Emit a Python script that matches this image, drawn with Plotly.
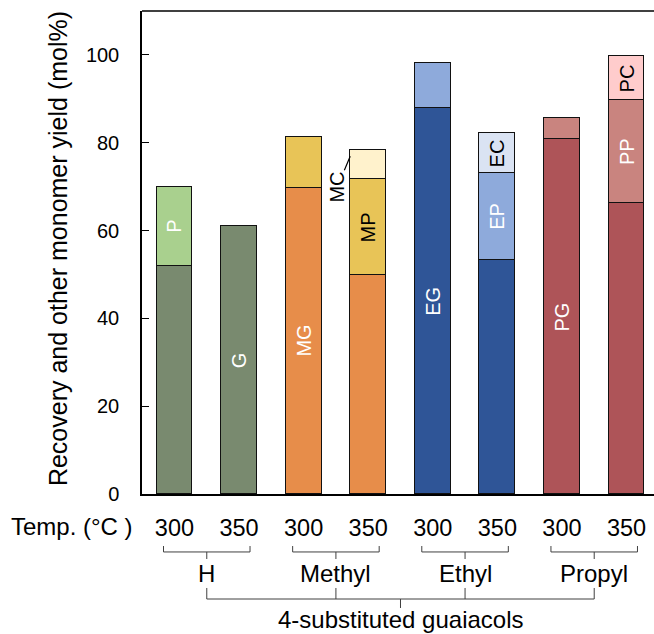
import plotly.graph_objects as go

# Reaction temperature for each run and the 4-substituent of the guaiacol feed
temps = ["300", "350", "300", "350", "300", "350", "300", "350"]
groups = ["H", "Methyl", "Ethyl", "Propyl"]
family = "4-substituted guaiacols"

# Yields (mol%) stacked from the bottom: recovered guaiacol, phenol, catechol
guaiacol = [52.0, 61.0, 69.7, 49.8, 87.9, 53.4, 80.8, 66.2]
phenol = [17.9, None, 11.6, 21.9, 10.3, 19.6, 4.9, 23.6]
catechol = [None, None, None, 6.7, None, 9.3, None, 9.9]

# Segment names written inside the bars
guaiacol_names = ["", "G", "MG", "", "EG", "", "PG", ""]
phenol_names = ["P", "", "", "MP", "", "EP", "", "PP"]
catechol_names = ["", "", "", "", "", "EC", "", "PC"]

pal = {
    "H": ("#798a6f", "#a9d08e", "#a9d08e"),
    "Methyl": ("#e78d4a", "#e8c457", "#fff2cc"),
    "Ethyl": ("#2f5597", "#8eaadb", "#dae3f3"),
    "Propyl": ("#ae5458", "#c9847f", "#ffcccc"),
}
bar_group = [groups[i // 2] for i in range(len(temps))]
dark_text = {"MP", "EC", "PC", "MC"}

FONT = "Liberation Sans, Arial, sans-serif"
x = list(range(len(temps)))
x_range = [-0.503, 7.426]
y_range = [0, 110]
bar_w = 0.557


def xp(v):
    return (v - x_range[0]) / (x_range[1] - x_range[0])


def text_ann(xv, yv, text, size, **kw):
    d = dict(x=xv, y=yv, xref="paper", yref="paper", text=text, showarrow=False,
             xanchor="center", yanchor="middle",
             font=dict(family=FONT, size=size, color="black"))
    d.update(kw)
    return d


fig = go.Figure()
line = dict(color="#111111", width=1.2)
for k, vals in enumerate([guaiacol, phenol, catechol]):
    fig.add_trace(go.Bar(
        x=x, y=vals, width=bar_w,
        marker=dict(color=[pal[g][k] for g in bar_group], line=line),
        hoverinfo="skip", showlegend=False,
    ))

annotations = []
# names centred in their segments
for i in x:
    base = 0.0
    for vals, names in [(guaiacol, guaiacol_names), (phenol, phenol_names), (catechol, catechol_names)]:
        v = vals[i] or 0.0
        if names[i]:
            annotations.append(dict(
                x=i, y=base + v / 2, xref="x", yref="y", text=names[i], showarrow=False,
                xanchor="center", yanchor="middle", textangle=-90,
                font=dict(family=FONT, size=20,
                          color="black" if names[i] in dark_text else "white"),
            ))
        base += v

# methylcatechol segment is too thin: name it outside with a leader
mc_top = guaiacol[3] + phenol[3] + catechol[3]
annotations.append(dict(
    x=3 - bar_w / 2, y=mc_top - 1.5, xref="x", yref="y", text="MC", textangle=-90,
    xanchor="center", yanchor="middle",
    showarrow=True, arrowhead=0, arrowwidth=1.2, arrowcolor="black", ax=-13, ay=31,
    font=dict(family=FONT, size=20, color="black"),
))

# y-axis title and the row caption of the temperatures
annotations.append(text_ann((58 - 142) / 512, 0.507,
                            "Recovery and other monomer yield (mol%)", 25, textangle=-90))
annotations.append(text_ann((135 - 142) / 512, -0.0683, "Temp. (°C )", 24, xanchor="right"))

shapes = []
bl = dict(color="#404040", width=1)
y_top, y_top_end, y_top_mid = -0.120, -0.1077, -0.1346
y_low, y_low_end, y_low_mid = -0.2174, -0.1946, -0.236
centers = []
for g, name in enumerate(groups):
    a, b = 2 * g, 2 * g + 1
    c = (a + b) / 2
    centers.append(c)
    x0, x1 = xp(a - 0.17), xp(b + 0.17)
    shapes += [
        dict(type="line", xref="paper", yref="paper", x0=x0, x1=x1, y0=y_top, y1=y_top, line=bl),
        dict(type="line", xref="paper", yref="paper", x0=x0, x1=x0, y0=y_top, y1=y_top_end, line=bl),
        dict(type="line", xref="paper", yref="paper", x0=x1, x1=x1, y0=y_top, y1=y_top_end, line=bl),
        dict(type="line", xref="paper", yref="paper", x0=xp(c), x1=xp(c), y0=y_top, y1=y_top_mid, line=bl),
        dict(type="line", xref="paper", yref="paper", x0=xp(c), x1=xp(c), y0=y_low, y1=y_low_end, line=bl),
    ]
    annotations.append(text_ann(xp(c), -0.1636, name, 24))
mid = (centers[0] + centers[-1]) / 2
shapes += [
    dict(type="line", xref="paper", yref="paper", x0=xp(centers[0]), x1=xp(centers[-1]),
         y0=y_low, y1=y_low, line=bl),
    dict(type="line", xref="paper", yref="paper", x0=xp(mid), x1=xp(mid),
         y0=y_low, y1=y_low_mid, line=bl),
    # top frame line
    dict(type="line", xref="paper", yref="paper", x0=0, x1=1, y0=1, y1=1,
         line=dict(color="black", width=1.5)),
]
annotations.append(text_ann(xp(mid), -0.2595, family, 24))

fig.update_layout(
    width=654, height=634,
    margin=dict(l=142, r=0, t=11, b=140),
    barmode="stack", bargap=0,
    plot_bgcolor="white", paper_bgcolor="white",
    font=dict(family=FONT, color="black"),
    annotations=annotations, shapes=shapes,
)
fig.update_xaxes(
    range=x_range, tickmode="array", tickvals=x, ticktext=temps,
    showline=True, linecolor="black", linewidth=1.5, ticks="",
    tickfont=dict(family=FONT, size=23.5, color="black"), ticklabelstandoff=12,
    showgrid=False, zeroline=False,
)
fig.update_yaxes(
    range=y_range, tickvals=[0, 20, 40, 60, 80, 100],
    showline=True, linecolor="black", linewidth=1.5,
    ticks="inside", ticklen=7, tickwidth=1.2, tickcolor="black",
    tickfont=dict(family=FONT, size=20, color="black"), ticklabelstandoff=17,
    showgrid=False, zeroline=False,
)

fig.write_html("out.html")
